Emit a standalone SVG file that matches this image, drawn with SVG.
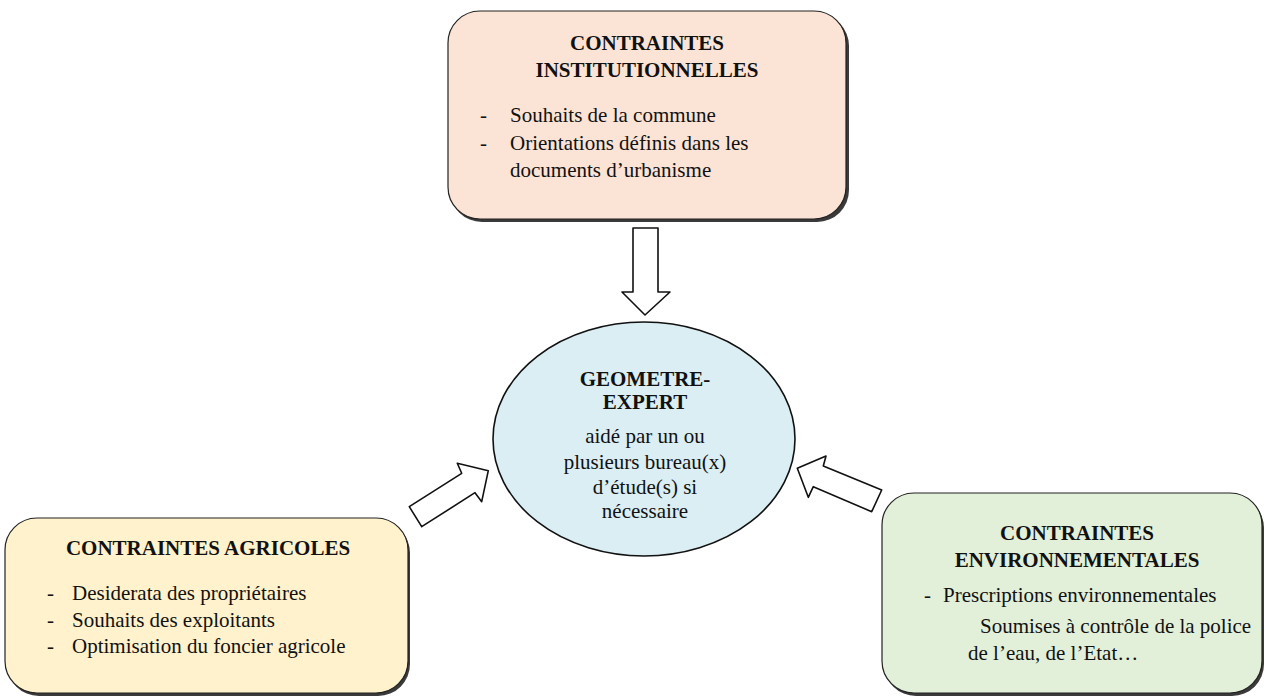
<svg xmlns="http://www.w3.org/2000/svg" width="1265" height="696" viewBox="0 0 1265 696">
<style>
  .t { font-family: "Liberation Serif", "Times New Roman", serif; font-size: 21px; fill: #111; }
  .b { font-weight: bold; }
  .box { stroke: #222; stroke-width: 1.2; }
  .sh { fill: #3a3a3a; }
  .arrow { fill: #fff; stroke: #111; stroke-width: 1.6; stroke-linejoin: round; }
</style>
<rect width="1265" height="696" fill="#fff"/>
<g id="connectors">
  <polygon class="arrow" points="633,228 658,228 658,292 670,292 645,315 622,292 633,292"/>
  <polygon class="arrow" points="409.3,506.7 461.7,473.3 457.3,463.3 488.3,470.7 481.7,501.7 475,492.7 421.7,526.7"/>
  <polygon class="arrow" points="797.3,468.3 826,456 823.3,466 881.7,490 871.7,511.7 813.3,486.7 808.3,497.3"/>
</g>
<g id="institutionnelles">
  <rect class="sh" x="450" y="14" width="399" height="208" rx="32"/>
  <rect class="box" x="448" y="11" width="398" height="208" rx="32" fill="#fbe4d5"/>
  <text class="t b" x="647" y="50" text-anchor="middle">CONTRAINTES</text>
  <text class="t b" x="647" y="77" text-anchor="middle">INSTITUTIONNELLES</text>
  <text class="t" x="480" y="122">-</text>
  <text class="t" x="510" y="122">Souhaits de la commune</text>
  <text class="t" x="480" y="150">-</text>
  <text class="t" x="510" y="150">Orientations définis dans les</text>
  <text class="t" x="510" y="177">documents d’urbanisme</text>
</g>
<g id="geometre">
  <ellipse cx="644" cy="439" rx="151" ry="117" fill="#daeef3" stroke="#111" stroke-width="1.6"/>
  <text class="t b" x="645" y="386" text-anchor="middle">GEOMETRE-</text>
  <text class="t b" x="645" y="409" text-anchor="middle">EXPERT</text>
  <text class="t" x="645" y="443" text-anchor="middle">aidé par un ou</text>
  <text class="t" x="645" y="469" text-anchor="middle">plusieurs bureau(x)</text>
  <text class="t" x="645" y="494" text-anchor="middle">d’étude(s) si</text>
  <text class="t" x="645" y="518" text-anchor="middle">nécessaire</text>
</g>
<g id="agricoles">
  <rect class="sh" x="7" y="521" width="403" height="175" rx="32"/>
  <rect class="box" x="5" y="518" width="403" height="175" rx="32" fill="#fff2cc"/>
  <text class="t b" x="208" y="555" text-anchor="middle">CONTRAINTES AGRICOLES</text>
  <text class="t" x="47" y="600">-</text>
  <text class="t" x="72" y="600">Desiderata des propriétaires</text>
  <text class="t" x="47" y="627">-</text>
  <text class="t" x="72" y="627">Souhaits des exploitants</text>
  <text class="t" x="47" y="653">-</text>
  <text class="t" x="72" y="653">Optimisation du foncier agricole</text>
</g>
<g id="environnementales">
  <rect class="sh" x="884" y="496" width="380" height="200" rx="32"/>
  <rect class="box" x="882" y="493" width="380" height="200" rx="32" fill="#e2efd9"/>
  <text class="t b" x="1077" y="540" text-anchor="middle">CONTRAINTES</text>
  <text class="t b" x="1077" y="567" text-anchor="middle">ENVIRONNEMENTALES</text>
  <text class="t" x="924" y="602">-</text>
  <text class="t" x="943" y="602">Prescriptions environnementales</text>
  <text class="t" x="980" y="633">Soumises à contrôle de la police</text>
  <text class="t" x="968" y="660">de l’eau, de l’Etat…</text>
</g>
</svg>
